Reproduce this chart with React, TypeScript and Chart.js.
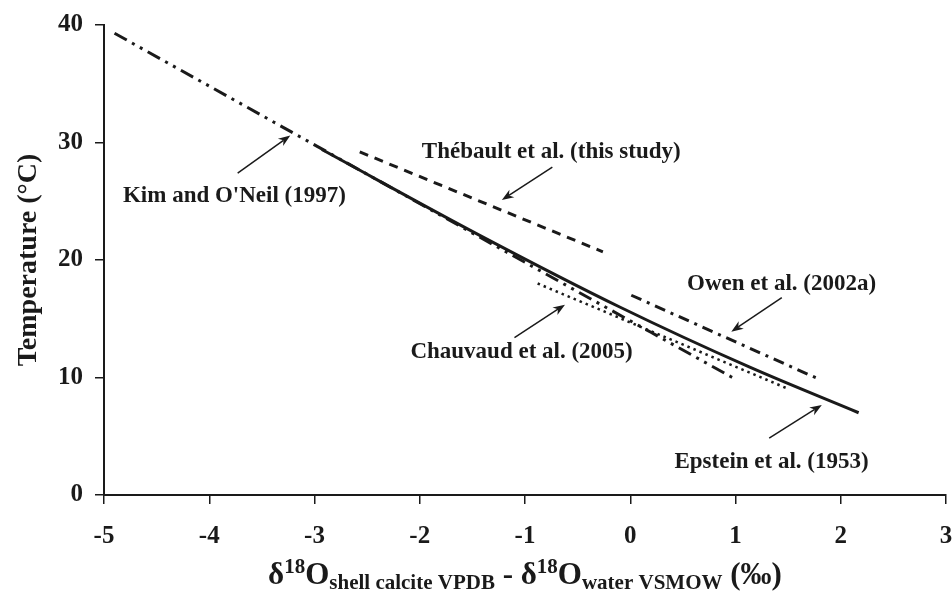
import React, { useEffect, useRef } from "react";
import { Chart, registerables } from "chart.js";

Chart.register(...registerables);

// ---- data ----
const kimX = [-4.9, -3.0, -1.0, 0.97];
const kimT = [39.3, 29.8, 19.8, 10.0];
const epsteinX = [-2.93, -1.43, -0.1, 1.13, 2.17];
const epsteinT = [29.4, 22.1, 16.0, 10.9, 7.0];
const thebaultX = [-2.57, -0.26];
const thebaultT = [29.2, 20.7];
const owenX = [0.01, 1.77];
const owenT = [17.0, 9.95];
const chauvaudX = [-0.88, 1.51];
const chauvaudT = [18.0, 9.0];

const xTicks = [-5, -4, -3, -2, -1, 0, 1, 2, 3];
const yTicks = [0, 10, 20, 30, 40];

const labelTexts = [
  "Kim and O'Neil (1997)",
  "Thébault et al. (this study)",
  "Owen et al. (2002a)",
  "Chauvaud et al. (2005)",
  "Epstein et al. (1953)",
];

// annotation layout (data coordinates, label anchor is text baseline)
const annotations = [
  { text: labelTexts[0], x: -4.82, y: 24.9, align: "left", tail: [-3.73, 27.4], head: [-3.23, 30.6] },
  { text: labelTexts[1], x: -1.98, y: 28.7, align: "left", tail: [-0.74, 27.9], head: [-1.22, 25.1] },
  { text: labelTexts[2], x: 0.54, y: 17.45, align: "left", tail: [1.44, 16.8], head: [0.96, 13.9] },
  { text: labelTexts[3], x: 0.024, y: 11.66, align: "right", tail: [-1.1, 13.4], head: [-0.62, 16.2] },
  { text: labelTexts[4], x: 2.265, y: 2.3, align: "right", tail: [1.32, 4.85], head: [1.82, 7.66] },
];

const INK = "#1a1a1a";
const SERIF = "'Liberation Serif', 'Times New Roman', serif";

const pts = (xs: number[], ys: number[]) => xs.map((x, i) => ({ x, y: ys[i] }));

const drawArrow = (ctx: CanvasRenderingContext2D, x1: number, y1: number, x2: number, y2: number) => {
  const ang = Math.atan2(y2 - y1, x2 - x1);
  const hl = 12;
  const hw = 4.5;
  const c = Math.cos(ang);
  const s = Math.sin(ang);
  ctx.save();
  ctx.strokeStyle = INK;
  ctx.fillStyle = INK;
  ctx.lineWidth = 1.5;
  ctx.setLineDash([]);
  ctx.beginPath();
  ctx.moveTo(x1, y1);
  ctx.lineTo(x2 - c * hl * 0.7, y2 - s * hl * 0.7);
  ctx.stroke();
  ctx.beginPath();
  ctx.moveTo(x2, y2);
  ctx.lineTo(x2 - c * hl - s * hw, y2 - s * hl + c * hw);
  ctx.lineTo(x2 - c * hl * 0.7, y2 - s * hl * 0.7);
  ctx.lineTo(x2 - c * hl + s * hw, y2 - s * hl - c * hw);
  ctx.closePath();
  ctx.fill();
  ctx.restore();
};

const overlayPlugin = {
  id: "overlay",
  afterDraw(chart: any) {
    const ctx: CanvasRenderingContext2D = chart.ctx;
    const xs = chart.scales.x;
    const ys = chart.scales.y;
    ctx.save();
    ctx.fillStyle = INK;
    // annotations
    ctx.font = `bold 23px ${SERIF}`;
    ctx.textBaseline = "alphabetic";
    for (const a of annotations) {
      ctx.textAlign = a.align as CanvasTextAlign;
      ctx.fillText(a.text, xs.getPixelForValue(a.x), ys.getPixelForValue(a.y));
      drawArrow(
        ctx,
        xs.getPixelForValue(a.tail[0]),
        ys.getPixelForValue(a.tail[1]),
        xs.getPixelForValue(a.head[0]),
        ys.getPixelForValue(a.head[1])
      );
    }
    // y title
    ctx.save();
    ctx.translate(29, (ys.top + ys.bottom) / 2);
    ctx.rotate(-Math.PI / 2);
    ctx.textAlign = "center";
    ctx.textBaseline = "middle";
    ctx.font = `bold 28px ${SERIF}`;
    ctx.fillText("Temperature (°C)", 0, 0);
    ctx.restore();
    // x title with super/subscripts
    const segs = [
      { t: "δ", s: 31, dy: 0 },
      { t: "18", s: 21, dy: -11 },
      { t: "O", s: 31, dy: 0 },
      { t: "shell calcite VPDB", s: 21, dy: 5 },
      { t: " - ", s: 31, dy: 0 },
      { t: "δ", s: 31, dy: 0 },
      { t: "18", s: 21, dy: -11 },
      { t: "O", s: 31, dy: 0 },
      { t: "water VSMOW", s: 21, dy: 5 },
      { t: " (‰)", s: 31, dy: 0 },
    ];
    let total = 0;
    for (const g of segs) {
      ctx.font = `bold ${g.s}px ${SERIF}`;
      total += ctx.measureText(g.t).width;
    }
    let cx = (xs.left + xs.right) / 2 - total / 2;
    const base = 584;
    ctx.textAlign = "left";
    ctx.textBaseline = "alphabetic";
    for (const g of segs) {
      ctx.font = `bold ${g.s}px ${SERIF}`;
      ctx.fillText(g.t, cx, base + g.dy);
      cx += ctx.measureText(g.t).width;
    }
    ctx.restore();
  },
};

export default function App() {
  const ref = useRef<HTMLCanvasElement | null>(null);
  useEffect(() => {
    if (!ref.current) return;
    const line = (data: any, dash: number[], width: number) => ({
      data,
      showLine: true,
      pointRadius: 0,
      borderColor: INK,
      backgroundColor: INK,
      borderWidth: width,
      borderDash: dash,
      borderCapStyle: "butt",
      cubicInterpolationMode: "monotone",
      fill: false,
    });
    const chart = new Chart(ref.current, {
      type: "scatter",
      data: {
        datasets: [
          line(pts(kimX, kimT), [14, 6, 3, 6, 3, 6], 3),
          line(pts(thebaultX, thebaultT), [9, 7], 3),
          line(pts(owenX, owenT), [11, 6, 3, 6], 3),
          line(pts(chauvaudX, chauvaudT), [2.5, 4], 2.5),
          line(pts(epsteinX, epsteinT), [], 3),
        ] as any,
      },
      options: {
        animation: false,
        responsive: true,
        maintainAspectRatio: false,
        layout: { padding: { top: 25, right: 6, left: 0, bottom: 0 } },
        plugins: { legend: { display: false }, tooltip: { enabled: false }, title: { display: false } },
        scales: {
          x: {
            type: "linear",
            min: -5,
            max: 3,
            afterBuildTicks: (s: any) => {
              s.ticks = xTicks.map((v) => ({ value: v }));
            },
            afterFit: (s: any) => {
              s.height = 97;
              s.paddingLeft = 0;
              s.paddingRight = 0;
            },
            ticks: {
              color: INK,
              font: { family: SERIF, size: 25, weight: "bold" },
              padding: 18,
              maxRotation: 0,
            },
            grid: { display: true, drawOnChartArea: false, drawTicks: true, tickLength: 9, color: INK, lineWidth: 1.5 },
            border: { display: true, color: INK, width: 2 },
          },
          y: {
            type: "linear",
            min: 0,
            max: 40,
            afterBuildTicks: (s: any) => {
              s.ticks = yTicks.map((v) => ({ value: v }));
            },
            afterFit: (s: any) => {
              s.width = 104;
              s.paddingTop = 0;
              s.paddingBottom = 0;
            },
            ticks: {
              color: INK,
              font: { family: SERIF, size: 25, weight: "bold" },
              padding: 12,
            },
            grid: { display: true, drawOnChartArea: false, drawTicks: true, tickLength: 9, color: INK, lineWidth: 1.5 },
            border: { display: true, color: INK, width: 2 },
          },
        },
      } as any,
      plugins: [overlayPlugin],
    });
    return () => chart.destroy();
  }, []);
  return (
    <div style={{ position: "absolute", left: 0, top: 0, width: 952, height: 592, background: "#fff" }}>
      <canvas ref={ref} />
    </div>
  );
}
